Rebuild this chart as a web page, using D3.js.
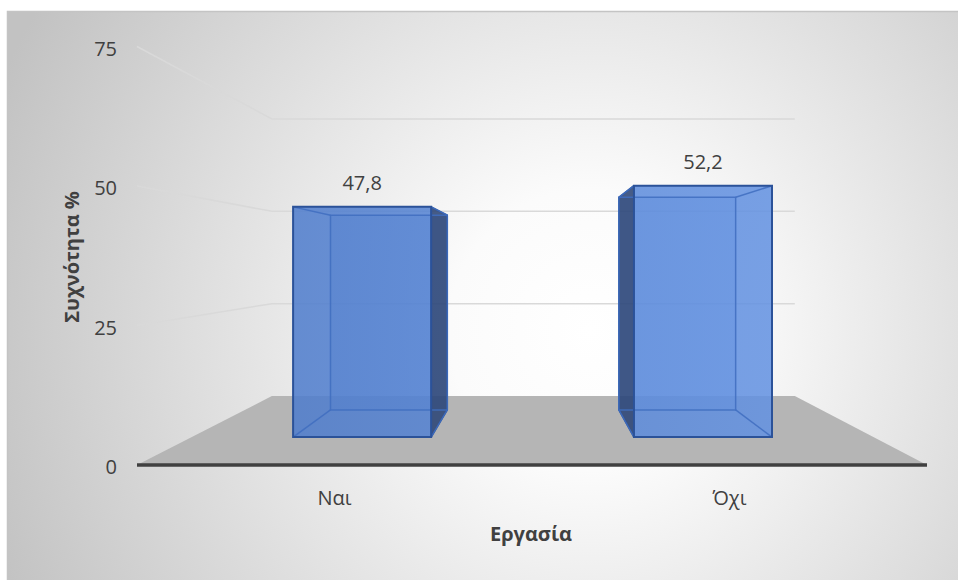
<!DOCTYPE html>
<html>
<head>
<meta charset="utf-8">
<script src="https://cdn.jsdelivr.net/npm/d3@7"></script>
<style>
  html, body { margin: 0; padding: 0; background: #ffffff; }
  svg { display: block; }
  text { font-family: "Open Sans", "DejaVu Sans", sans-serif; fill: #404040; }
</style>
</head>
<body>
<svg id="chart" width="958" height="580"></svg>
<script>
// Data
const categories = ["Ναι", "Όχι"];
const values = [47.8, 52.2];
const yTicks = [0, 25, 50, 75];
const xTitle = "Εργασία";
const yTitle = "Συχνότητα %";

const W = 958, H = 580;
const svg = d3.select("#chart");
const defs = svg.append("defs");

// Chart area background: radial white-to-grey fill
const bg = defs.append("radialGradient")
  .attr("id", "bgGrad").attr("gradientUnits", "userSpaceOnUse")
  .attr("cx", 590).attr("cy", 330).attr("r", 640);
bg.append("stop").attr("offset", 0).attr("stop-color", "#ffffff");
bg.append("stop").attr("offset", 0.22).attr("stop-color", "#fbfbfb");
bg.append("stop").attr("offset", 1).attr("stop-color", "#c2c2c2");

// Column front colour shifts slightly with light from the right
const colGrad = defs.append("linearGradient")
  .attr("id", "colGrad").attr("gradientUnits", "userSpaceOnUse")
  .attr("x1", 290).attr("y1", 0).attr("x2", 780).attr("y2", 0);
colGrad.append("stop").attr("offset", 0).attr("stop-color", "#4e7ccc");
colGrad.append("stop").attr("offset", 1).attr("stop-color", "#6392e2");

svg.append("rect")
  .attr("x", 7).attr("y", 11).attr("width", W - 7).attr("height", H - 11)
  .attr("fill", "url(#bgGrad)");
svg.append("path")
  .attr("d", `M7.5,${H} V11.5 H${W}`)
  .attr("fill", "none").attr("stroke", "#c4c4c4").attr("stroke-width", 1.5);

// Scales on the front plane of the 3D box
const x = d3.scaleBand().domain(categories).range([137, 927]).padding(0);
const y = d3.scaleLinear().domain([0, 75]).range([465, 46.5]);

// Perspective: points recede towards a vanishing point as depth z goes 0 -> 1
const VP = { x: 536, y: 261 };
const D = 1.958;
const sc = z => D / (D + z);
const proj = (px, py, z) => {
  const s = sc(z);
  return [VP.x + (px - VP.x) * s, VP.y + (py - VP.y) * s];
};
const poly = pts => "M" + pts.map(p => p.join(",")).join("L") + "Z";

const [x0, x1] = x.range();

// Floor
svg.append("path")
  .attr("d", poly([proj(x0, y(0), 0), proj(x0, y(0), 1), proj(x1, y(0), 1), proj(x1, y(0), 0)]))
  .attr("fill", "#b5b5b5");

// Gridlines along the side wall and back wall
const grid = svg.append("g").attr("fill", "none")
  .attr("stroke", "#d9d9d9").attr("stroke-width", 1.5);
yTicks.filter(v => v > 0).forEach(v => {
  const a = proj(x0, y(v), 0), b = proj(x0, y(v), 1), c = proj(x1, y(v), 1);
  grid.append("path").attr("d", `M${a}L${b}L${c}`);
});

// Axis baseline along the front edge of the floor
svg.append("line")
  .attr("x1", x0).attr("x2", x1).attr("y1", y(0)).attr("y2", y(0))
  .attr("stroke", "#404040").attr("stroke-width", 3.5);

// Columns: square boxes centred in each band
const barFrac = 0.405;
const zFront = 0.311, zBack = 0.724;
const fmt = d3.formatLocale({ decimal: ",", thousands: ".", grouping: [3], currency: ["", "€"] }).format(".1f");

const bars = svg.append("g");
categories.forEach((cat, i) => {
  const v = values[i];
  const cx = x(cat) + x.bandwidth() / 2;
  const hw = x.bandwidth() * barFrac / 2;
  const L = cx - hw, R = cx + hw, T = y(v), B = y(0);
  const fTL = proj(L, T, zFront), fTR = proj(R, T, zFront), fBR = proj(R, B, zFront), fBL = proj(L, B, zFront);
  const bTL = proj(L, T, zBack), bTR = proj(R, T, zBack), bBR = proj(R, B, zBack), bBL = proj(L, B, zBack);
  const g = bars.append("g");

  // back face
  g.append("path").attr("d", poly([bTL, bTR, bBR, bBL]))
    .attr("fill", "url(#colGrad)").attr("fill-opacity", 0.35).attr("stroke", "none");

  // outer side face, the one turned towards the viewer
  const rightVisible = fTR[0] < VP.x;
  const side = rightVisible ? [fTR, bTR, bBR, fBR] : [fTL, bTL, bBL, fBL];
  g.append("path").attr("d", poly(side))
    .attr("fill", "#2c4676").attr("fill-opacity", 0.88)
    .attr("stroke", "#2b4f91").attr("stroke-width", 1.5).attr("stroke-linejoin", "round");

  // front face
  g.append("path").attr("d", poly([fTL, fTR, fBR, fBL]))
    .attr("fill", "url(#colGrad)").attr("fill-opacity", 0.86);

  // edges seen through the transparent front face
  const inner = g.append("g").attr("fill", "none")
    .attr("stroke", "#3f6dbf").attr("stroke-width", 1.5).attr("stroke-opacity", 0.85);
  inner.append("path").attr("d", poly([bTL, bTR, bBR, bBL]));
  [[fTL, bTL], [fTR, bTR], [fBL, bBL], [fBR, bBR]].forEach(([p, q]) =>
    inner.append("path").attr("d", `M${p}L${q}`));

  // outline of the front face
  g.append("path").attr("d", poly([fTL, fTR, fBR, fBL]))
    .attr("fill", "none").attr("stroke", "#2b5299").attr("stroke-width", 2);

  // value label
  svg.append("text")
    .attr("x", (fTL[0] + fTR[0]) / 2).attr("y", fTL[1] - 17)
    .attr("text-anchor", "middle").attr("font-size", 20)
    .text(fmt(v));
});

// Value axis labels
svg.append("g").selectAll("text").data(yTicks).join("text")
  .attr("x", 117).attr("y", d => y(d) + 2).attr("dy", "0.35em")
  .attr("text-anchor", "end").attr("font-size", 20)
  .text(d => d);

// Category labels
svg.append("g").selectAll("text").data(categories).join("text")
  .attr("x", d => x(d) + x.bandwidth() / 2).attr("y", 505)
  .attr("text-anchor", "middle").attr("font-size", 20)
  .text(d => d);

// Axis titles
svg.append("text")
  .attr("x", 531).attr("y", 541).attr("text-anchor", "middle")
  .attr("font-size", 20).attr("font-weight", "bold")
  .text(xTitle);
svg.append("text")
  .attr("transform", "translate(79,257) rotate(-90)").attr("text-anchor", "middle")
  .attr("font-size", 20).attr("font-weight", "bold")
  .text(yTitle);
</script>
</body>
</html>
